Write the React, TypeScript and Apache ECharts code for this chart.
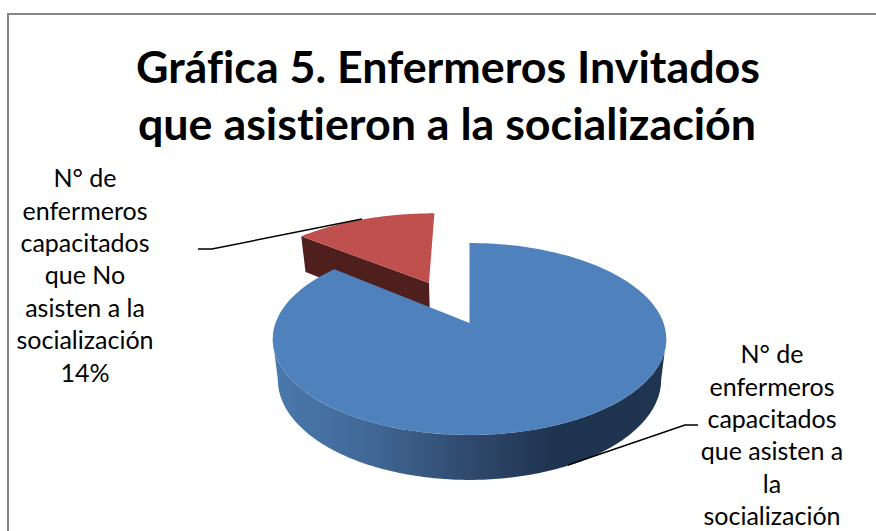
import React, { useEffect, useRef } from "react";
import * as echarts from "echarts";

const titleLines = ["Gráfica 5. Enfermeros Invitados", "que asistieron a la socialización"];
const categories = [
  "N° de\nenfermeros\ncapacitados\nque asisten a\nla\nsocialización",
  "N° de\nenfermeros\ncapacitados\nque No\nasisten a la\nsocialización\n14%",
];
const values = [86, 14];
const total = values[0] + values[1];

const CX = 469.5, CY = 323, RX = 194, RY = 93.3, K = 1 / 6;
const BCY = 362.8, BRX = 189, BRY = 97.6;
const EXPLODE = [[0, 0, 1], [-0.225, 0.462, 1.04]];
const SILHOUETTE = Math.acos(-K);

function project(X: number, Y: number, bottom: boolean): number[] {
  const w = 1 + K * Y;
  return bottom
    ? [CX + (BRX * X) / w, BCY - (BRY * Y) / w]
    : [CX + (RX * X) / w, CY - (RY * Y) / w];
}
function rim(theta: number, d: number[], bottom: boolean): number[] {
  return project(d[0] + d[2] * Math.sin(theta), d[1] + Math.cos(theta), bottom);
}
function arc(a: number, b: number, d: number[], bottom: boolean): number[][] {
  const out: number[][] = [];
  const n = 180;
  for (let i = 0; i <= n; i++) out.push(rim(a + ((b - a) * i) / n, d, bottom));
  return out;
}

const wallBlue = new echarts.graphic.LinearGradient(273, 0, 667, 0, [
  { offset: 0, color: "#4A79AD" },
  { offset: 0.25, color: "#406896" },
  { offset: 0.5, color: "#30496C" },
  { offset: 0.72, color: "#1E3350" },
  { offset: 1, color: "#1F3550" },
], true);

function renderItem(params: any, api: any) {
  const idx = params.dataIndex;
  const v = api.value(0) as number;
  let before = 0;
  for (let i = 0; i < idx; i++) before += values[i];
  const a = (before / total) * Math.PI * 2;
  const b = ((before + v) / total) * Math.PI * 2;
  const d = EXPLODE[idx];
  const top = arc(a, b, d, false);
  const z = idx === 0 ? 10 : 1;
  const children: any[] = [];
  if (idx === 0) {
    const wa = Math.max(a, SILHOUETTE);
    const wb = Math.min(b, Math.PI * 2 - SILHOUETTE);
    const wallTop = arc(wa, wb, d, false);
    const wallBot = arc(wa, wb, d, true);
    children.push({
      type: "polygon", z2: z,
      shape: { points: wallTop.concat(wallBot.slice().reverse()) },
      style: { fill: wallBlue },
    });
    const p0 = project(d[0], d[1] + 0.25, false);
    const p1 = project(d[0], d[1], false);
    children.push({
      type: "line", z2: z,
      shape: { x1: p0[0] + 1, y1: p0[1], x2: p1[0] + 1, y2: p1[1] },
      style: { stroke: "#2A4565", lineWidth: 1 },
    });
  } else {
    const apexT = project(d[0], d[1], false);
    const apexB = project(d[0], d[1], true);
    const cornerT = rim(a, d, false);
    const cornerB = rim(a, d, true);
    children.push({
      type: "polygon", z2: z,
      shape: { points: [apexT, cornerT, cornerB, apexB] },
      style: { fill: "#4F1F1D" },
    });
  }
  const apex = project(d[0], d[1], false);
  children.push({
    type: "polygon", z2: z + 1,
    shape: { points: [apex].concat(top) },
    style: { fill: idx === 0 ? "#4F81BD" : "#C0504D" },
  });
  return { type: "group", children };
}

export default function App() {
  const ref = useRef<HTMLDivElement>(null);
  useEffect(() => {
    document.body.style.margin = "0";
    const chart = echarts.init(ref.current!, undefined, { renderer: "svg" });
    const labelStyle = { font: '25px Lato, "Noto Sans", sans-serif', fill: "#000", textAlign: "center", textVerticalAlign: "top", lineHeight: 32.4 };
    chart.setOption({
      animation: false,
      backgroundColor: "#FFFFFF",
      series: [{
        type: "custom",
        coordinateSystem: "none",
        renderItem,
        data: values.map((v) => [v]),
        silent: true,
        z: 2,
      }],
      graphic: [
        { type: "polyline", z: 1, shape: { points: [[8, 540], [8, 14], [880, 14]] }, style: { stroke: "#868686", lineWidth: 2, fill: "none" } },
        { type: "text", z: 5, x: 448, y: 66, style: { text: titleLines[0], font: 'bold 44.8px Lato, "Noto Sans", sans-serif', fill: "#000", textAlign: "center", textVerticalAlign: "middle" } },
        { type: "text", z: 5, x: 447, y: 123, style: { text: titleLines[1], font: 'bold 44.8px Lato, "Noto Sans", sans-serif', fill: "#000", textAlign: "center", textVerticalAlign: "middle" } },
        { type: "text", z: 5, x: 85, y: 161, style: { ...labelStyle, text: categories[1] } },
        { type: "text", z: 5, x: 772, y: 337, style: { ...labelStyle, text: categories[0] } },
        { type: "polyline", z: 4, shape: { points: [[198, 249], [212, 249], [362, 219]] }, style: { stroke: "#000", lineWidth: 1.5, fill: "none" } },
        { type: "polyline", z: 4, shape: { points: [[698, 425], [685, 425], [568, 465]] }, style: { stroke: "#000", lineWidth: 1.5, fill: "none" } },
      ],
    });
    return () => chart.dispose();
  }, []);
  return (
    <div ref={ref} style={{ width: 876, height: 531 }}>
      <style>{"text{font-variant-ligatures:none !important;font-feature-settings:'liga' 0,'clig' 0,'dlig' 0 !important;}"}</style>
    </div>
  );
}
